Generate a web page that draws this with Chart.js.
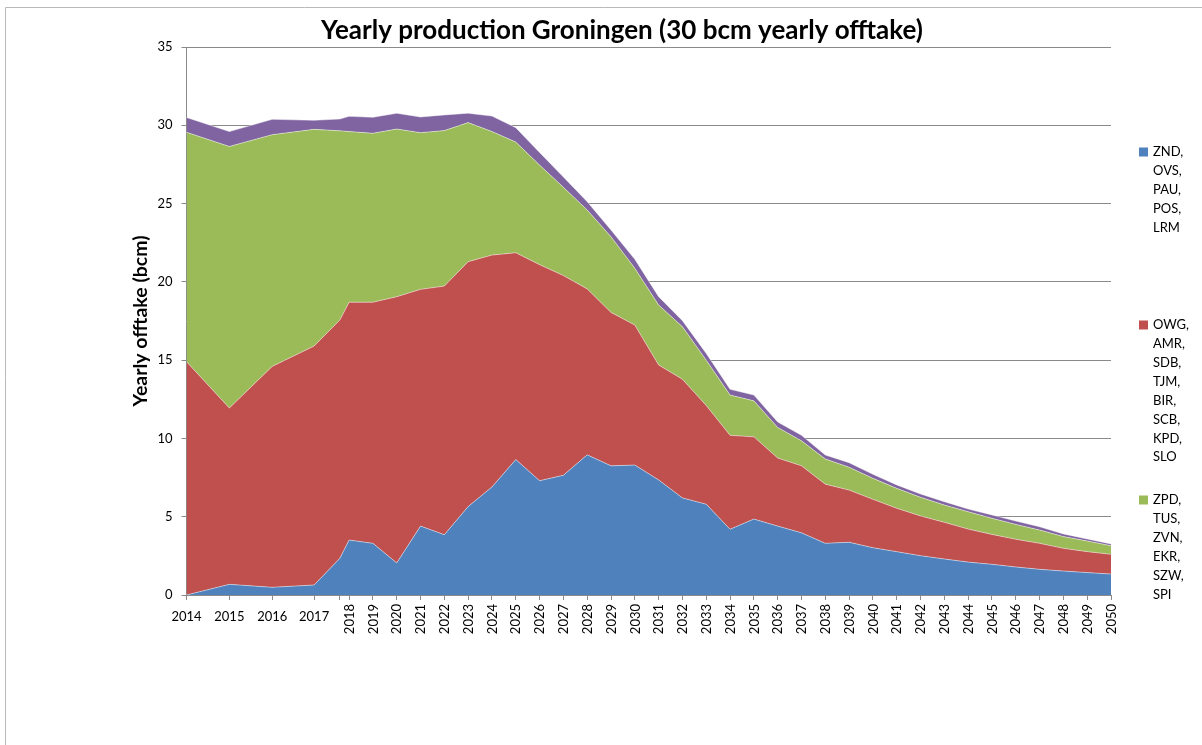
<!DOCTYPE html>
<html>
<head>
<meta charset="utf-8">
<title>Yearly production Groningen</title>
<script src="https://cdn.jsdelivr.net/npm/chart.js@4.4.1/dist/chart.umd.min.js"></script>
<style>
  html, body { margin: 0; padding: 0; background: #fff; }
  #wrap { width: 1202px; height: 745px; position: relative; }
</style>
</head>
<body>
<div id="wrap"><canvas id="chart" width="1202" height="745"></canvas></div>
<script>
// Gas years on the category axis (one unlabelled step before 2018)
const years = [
  '2014', '2015', '2016', '2017', '', '2018', '2019', '2020', '2021', '2022',
  '2023', '2024', '2025', '2026', '2027', '2028', '2029', '2030', '2031', '2032',
  '2033', '2034', '2035', '2036', '2037', '2038', '2039', '2040', '2041', '2042',
  '2043', '2044', '2045', '2046', '2047', '2048', '2049', '2050'
];

// Cluster groups shown in the legend
const southFields = ['ZND', 'OVS', 'PAU', 'POS', 'LRM'];
const centralFields = ['OWG', 'AMR', 'SDB', 'TJM', 'BIR', 'SCB', 'KPD', 'SLO'];
const eastFields = ['ZPD', 'TUS', 'ZVN', 'EKR', 'SZW', 'SPI'];

// Yearly offtake per group, bcm
const southOfftake = [
  0, 0.68, 0.49, 0.64, 2.34, 3.51, 3.30, 2.05, 4.40, 3.85,
  5.65, 6.90, 8.65, 7.30, 7.65, 8.95, 8.25, 8.30, 7.35, 6.20,
  5.80, 4.20, 4.85, 4.40, 3.97, 3.30, 3.37, 3.02, 2.77, 2.51,
  2.30, 2.10, 1.96, 1.79, 1.64, 1.53, 1.43, 1.34
];
const centralOfftake = [
  14.90, 11.26, 14.11, 15.26, 15.22, 15.19, 15.40, 17.00, 15.12, 15.88,
  15.64, 14.81, 13.21, 13.80, 12.75, 10.60, 9.80, 8.94, 7.34, 7.58,
  6.30, 6.00, 5.25, 4.35, 4.28, 3.78, 3.33, 3.09, 2.77, 2.54,
  2.34, 2.11, 1.91, 1.77, 1.66, 1.45, 1.34, 1.26
];
const eastOfftake = [
  14.65, 16.71, 14.80, 13.84, 12.09, 10.90, 10.79, 10.71, 10.01, 9.93,
  8.88, 7.89, 7.07, 6.36, 5.64, 5.04, 4.83, 3.63, 3.83, 3.36,
  2.90, 2.57, 2.30, 1.95, 1.60, 1.61, 1.46, 1.34, 1.27, 1.19,
  1.11, 1.11, 1.03, 0.95, 0.85, 0.75, 0.68, 0.55
];
const restOfftake = [
  0.95, 0.95, 0.98, 0.58, 0.75, 0.97, 1.02, 1.01, 1.00, 1.00,
  0.60, 0.99, 0.92, 0.80, 0.66, 0.53, 0.43, 0.57, 0.53, 0.38,
  0.43, 0.37, 0.37, 0.35, 0.35, 0.25, 0.29, 0.26, 0.22, 0.21,
  0.21, 0.17, 0.21, 0.22, 0.21, 0.17, 0.13, 0.11
];

const yTicks = [0, 5, 10, 15, 20, 25, 30, 35];

const titleText = 'Yearly production Groningen (30 bcm yearly offtake)';
const yTitleText = 'Yearly offtake (bcm)';

// Relative width of each step between neighbouring categories;
// the first years are drawn wider than the rest of the axis.
const stepWidths = [1.8, 1.8, 1.76, 1.08, 0.39];
const flatLabelCount = 4;

const FONT = 'Lato, "Open Sans", sans-serif';
const GRID = '#8a8a8a';

// Category scale with uneven spacing between categories
class SteppedCategoryScale extends Chart.CategoryScale {
  static id = 'steppedCategory';

  _offsetOf(index) {
    let pos = 0;
    for (let i = 0; i < index; i++) pos += i < stepWidths.length ? stepWidths[i] : 1;
    return pos;
  }

  getPixelForValue(value) {
    if (typeof value !== 'number') value = this.parse(value);
    if (value === null || isNaN(value)) return NaN;
    const start = this._offsetOf(this.min);
    const span = this._offsetOf(this.max) - start;
    const i = Math.floor(value);
    const frac = value - i;
    const pos = this._offsetOf(i) + frac * (this._offsetOf(i + 1) - this._offsetOf(i));
    return this.getPixelForDecimal(span ? (pos - start) / span : 0);
  }

  getValueForPixel(pixel) {
    let best = this.min, bestDist = Infinity;
    for (let i = this.min; i <= this.max; i++) {
      const d = Math.abs(this.getPixelForValue(i) - pixel);
      if (d < bestDist) { bestDist = d; best = i; }
    }
    return best;
  }
}
Chart.register(SteppedCategoryScale);

const seriesStyle = (color) => ({
  backgroundColor: color,
  borderColor: 'rgba(255,255,255,0.45)',
  borderWidth: 1,
  pointRadius: 0,
  tension: 0
});

// Titles, rotated year labels, legend and frame
const decorations = {
  id: 'decorations',
  afterDraw(chart) {
    const ctx = chart.ctx;
    const xs = chart.scales.x;
    ctx.save();

    ctx.strokeStyle = '#b9b9b9';
    ctx.lineWidth = 1;
    ctx.beginPath();
    ctx.moveTo(5.5, 745);
    ctx.lineTo(5.5, 7.5);
    ctx.lineTo(1202, 7.5);
    ctx.stroke();

    ctx.fillStyle = '#000';
    ctx.textAlign = 'center';
    ctx.textBaseline = 'middle';
    ctx.font = 'bold 26px ' + FONT;
    ctx.fillText(titleText, 622, 31);

    ctx.save();
    ctx.translate(141, 321);
    ctx.rotate(-Math.PI / 2);
    ctx.font = 'bold 19.5px ' + FONT;
    ctx.fillText(yTitleText, 0, 0);
    ctx.restore();

    ctx.font = '13px ' + FONT;
    xs.ticks.forEach((tick, i) => {
      const label = years[tick.value];
      if (!label) return;
      const px = xs.getPixelForTick(i);
      if (i < flatLabelCount) {
        ctx.textAlign = 'center';
        ctx.fillText(label, px, 617);
      } else {
        ctx.save();
        ctx.translate(px + 0.5, 604);
        ctx.rotate(-Math.PI / 2);
        ctx.textAlign = 'right';
        ctx.fillText(label, 0, 0);
        ctx.restore();
      }
    });

    // legend: one block of field names per group
    const blocks = [
      { fields: southFields, color: chart.data.datasets[0].backgroundColor, top: 152 },
      { fields: centralFields, color: chart.data.datasets[1].backgroundColor, top: 325 },
      { fields: eastFields, color: chart.data.datasets[2].backgroundColor, top: 500 }
    ];
    ctx.textAlign = 'left';
    blocks.forEach(b => {
      ctx.fillStyle = b.color;
      ctx.fillRect(1139, b.top - 4.5, 9, 9);
      ctx.fillStyle = '#000';
      b.fields.forEach((f, k) => {
        const text = k < b.fields.length - 1 ? f + ',' : f;
        ctx.fillText(text, 1153, b.top + k * 18.9);
      });
    });

    ctx.restore();
  }
};

new Chart(document.getElementById('chart'), {
  type: 'line',
  data: {
    labels: years,
    datasets: [
      { label: southFields.join(', '), data: southOfftake, fill: 'origin', ...seriesStyle('#4f81bd') },
      { label: centralFields.join(', '), data: centralOfftake, fill: '-1', ...seriesStyle('#c0504d') },
      { label: eastFields.join(', '), data: eastOfftake, fill: '-1', ...seriesStyle('#9bbb59') },
      { label: '', data: restOfftake, fill: '-1', ...seriesStyle('#8064a2') }
    ]
  },
  options: {
    responsive: false,
    animation: false,
    layout: { padding: { left: 126.5, right: 91, top: 47, bottom: 145 } },
    plugins: {
      legend: { display: false },
      title: { display: false },
      tooltip: { enabled: false }
    },
    scales: {
      x: {
        type: 'steppedCategory',
        offset: false,
        grid: { drawOnChartArea: false, drawTicks: true, tickLength: 5, color: GRID },
        border: { display: true, color: GRID },
        ticks: { display: false, autoSkip: false },
        afterFit: (s) => { s.height = 5; }
      },
      y: {
        stacked: true,
        min: 0,
        max: 35,
        afterBuildTicks: (s) => { s.ticks = yTicks.map(v => ({ value: v })); },
        grid: { color: GRID, tickLength: 5 },
        border: { display: true, color: GRID },
        ticks: { color: '#000', padding: 9, font: { family: FONT, size: 13 } },
        afterFit: (s) => { s.width = 60; }
      }
    }
  },
  plugins: [decorations]
});
</script>
</body>
</html>
